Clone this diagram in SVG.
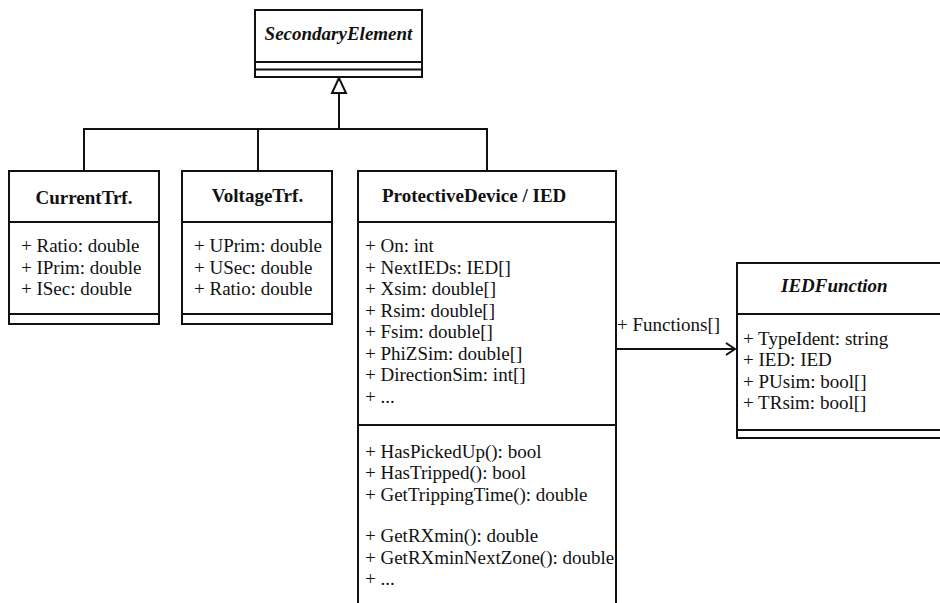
<svg xmlns="http://www.w3.org/2000/svg" width="940" height="603" viewBox="0 0 940 603">
  <style>
    .box { fill: #ffffff; stroke: #111111; stroke-width: 2; }
    .sep { stroke: #111111; stroke-width: 2; fill: none; }
    .edge { stroke: #111111; stroke-width: 2; fill: none; }
    text { font-family: "Liberation Serif", "DejaVu Serif", serif; font-size: 19px; fill: #111111; }
    .title { font-weight: bold; }
    .abstract { font-weight: bold; font-style: italic; }
  </style>
  <defs>
    <marker id="open-arrow" markerWidth="14" markerHeight="14" refX="11" refY="7" orient="auto" markerUnits="userSpaceOnUse">
      <path d="M2,1 L11,7 L2,13" fill="none" stroke="#111111" stroke-width="2"/>
    </marker>
  </defs>

  <rect width="940" height="603" fill="#ffffff"/>

  <!-- connectors -->
  <g id="connectors">
    <!-- generalization tree -->
    <path class="edge" d="M84,171 V129 H487 V171"/>
    <path class="edge" d="M258,129 V171"/>
    <path class="edge" d="M339,129 V93"/>
    <polygon points="339,78 332,93 346,93" fill="#ffffff" stroke="#111111" stroke-width="2"/>
    <!-- association -->
    <path class="edge" d="M616,349 H735" marker-end="url(#open-arrow)"/>
    <text x="617" y="331">+ Functions[]</text>
  </g>

  <!-- abstract base class -->
  <g id="SecondaryElement">
    <rect class="box" x="255" y="10" width="167" height="67"/>
    <line class="sep" x1="255" y1="62" x2="422" y2="62"/>
    <line class="sep" x1="255" y1="69.5" x2="422" y2="69.5"/>
    <text class="abstract" x="338.5" y="40" text-anchor="middle">SecondaryElement</text>
  </g>

  <g id="CurrentTrf">
    <rect class="box" x="9" y="171" width="150" height="153"/>
    <line class="sep" x1="9" y1="222" x2="159" y2="222"/>
    <line class="sep" x1="9" y1="314" x2="159" y2="314"/>
    <text class="title" x="84" y="204" text-anchor="middle">CurrentTrf.</text>
    <text x="21" y="252">+ Ratio: double</text>
    <text x="21" y="274">+ IPrim: double</text>
    <text x="21" y="295">+ ISec: double</text>
  </g>

  <g id="VoltageTrf">
    <rect class="box" x="182" y="171" width="150" height="153"/>
    <line class="sep" x1="182" y1="222" x2="332" y2="222"/>
    <line class="sep" x1="182" y1="314" x2="332" y2="314"/>
    <text class="title" x="257.5" y="202" text-anchor="middle">VoltageTrf.</text>
    <text x="194" y="252">+ UPrim: double</text>
    <text x="194" y="274">+ USec: double</text>
    <text x="194" y="295">+ Ratio: double</text>
  </g>

  <g id="ProtectiveDevice">
    <rect class="box" x="358" y="171" width="258" height="460"/>
    <line class="sep" x1="358" y1="222" x2="616" y2="222"/>
    <line class="sep" x1="358" y1="425" x2="616" y2="425"/>
    <text class="title" x="382" y="202">ProtectiveDevice / IED</text>
    <text x="365" y="252">+ On: int</text>
    <text x="365" y="274">+ NextIEDs: IED[]</text>
    <text x="365" y="295">+ Xsim: double[]</text>
    <text x="365" y="317">+ Rsim: double[]</text>
    <text x="365" y="338">+ Fsim: double[]</text>
    <text x="365" y="360">+ PhiZSim: double[]</text>
    <text x="365" y="381">+ DirectionSim: int[]</text>
    <text x="365" y="403">+ ...</text>
    <text x="365" y="458">+ HasPickedUp(): bool</text>
    <text x="365" y="479">+ HasTripped(): bool</text>
    <text x="365" y="501">+ GetTrippingTime(): double</text>
    <text x="365" y="542">+ GetRXmin(): double</text>
    <text x="365" y="564">+ GetRXminNextZone(): double</text>
    <text x="365" y="585">+ ...</text>
  </g>

  <g id="IEDFunction">
    <rect class="box" x="737" y="263" width="240" height="175"/>
    <line class="sep" x1="737" y1="314" x2="977" y2="314"/>
    <line class="sep" x1="737" y1="430" x2="977" y2="430"/>
    <text class="abstract" x="781" y="292">IEDFunction</text>
    <text x="743" y="345">+ TypeIdent: string</text>
    <text x="743" y="366">+ IED: IED</text>
    <text x="743" y="388">+ PUsim: bool[]</text>
    <text x="743" y="409">+ TRsim: bool[]</text>
  </g>
</svg>
